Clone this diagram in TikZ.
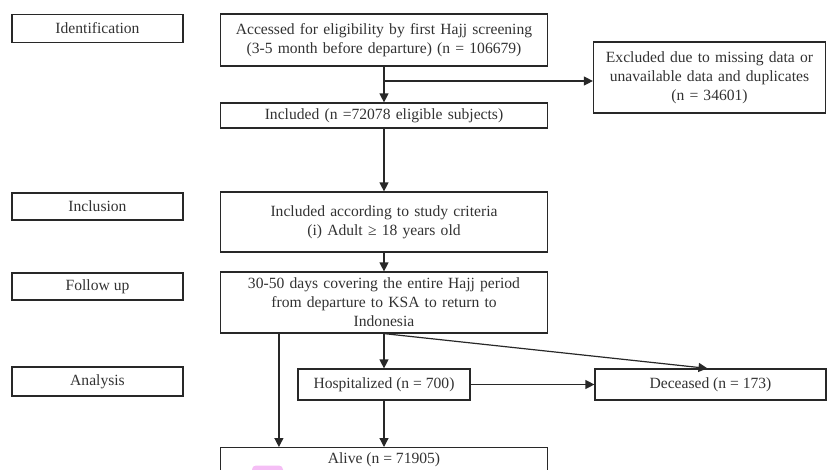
\documentclass[tikz,border=0pt]{standalone}
\usepackage{fontspec}
\setmainfont{Liberation Serif}
\usetikzlibrary{arrows.meta}
\definecolor{linegray}{RGB}{40,40,40}
\definecolor{textgray}{RGB}{50,50,50}
\definecolor{blobpink}{RGB}{245,190,245}
\begin{document}
\begin{tikzpicture}[x=1pt,y=-1pt,
  box/.style={draw=linegray, line width=1.2pt, align=center, inner sep=2pt,
    font=\fontsize{15.6}{19}\selectfont, text=textgray},
  sidebox/.style={box, minimum width=171pt, minimum height=28pt},
  mainbox/.style={box, minimum width=327pt, text width=320pt},
  arr/.style={draw=linegray, line width=1.2pt, -{Triangle[length=9pt,width=9pt]}},
]
\useasboundingbox (0,0) rectangle (827,469);

% side labels
\node[sidebox] (ident) at (97.5,28.3) {Identification};
\node[sidebox, minimum height=27pt] (inclu) at (97.5,206.5) {Inclusion};
\node[sidebox, minimum height=27pt] (follow) at (97.5,286.5) {Follow up};
\node[sidebox, minimum height=29pt] (analysis) at (97.5,381.5) {Analysis};

% main column
\node[mainbox, minimum height=52pt] (b1) at (384,40)
  {Accessed for eligibility by first Hajj screening\\(3-5 month before departure) (n = 106679)};
\node[mainbox, minimum height=25pt] (b2) at (384,115.5)
  {Included (n =72078 eligible subjects)};
\node[box, minimum width=232pt, minimum height=71pt, text width=226pt] (excl) at (709.5,77.5)
  {Excluded due to missing data or\\unavailable data and duplicates\\(n = 34601)};
\node[mainbox, minimum height=60pt] (b3) at (384,222)
  {Included according to study criteria\\(i) Adult ≥ 18 years old};
\node[mainbox, minimum height=61pt] (b4) at (384,302.5)
  {30-50 days covering the entire Hajj period\\from departure to KSA to return to\\Indonesia};
\node[box, minimum width=172pt, minimum height=31pt] (hosp) at (384,384.5)
  {Hospitalized (n = 700)};
\node[box, minimum width=231pt, minimum height=31pt] (dec) at (710.5,384.5)
  {Deceased (n = 173)};
\node[box, minimum width=327pt, minimum height=44pt, anchor=north,
  label={[anchor=north, font=\fontsize{15.6}{19}\selectfont, text=textgray, yshift=-2pt]north:Alive (n = 71905)}]
  (alive) at (384,447) {};

% pink mark
\begin{scope}
\clip (0,0) rectangle (827,469);
\fill[blobpink, rounded corners=4pt] (252,465.5) rectangle (283,480);
\end{scope}

% connectors
\draw[arr] (b1) -- (b2);
\coordinate (br) at (384,81);
\draw[arr] (br) -- (excl.west |- br);
\draw[arr] (b2) -- (b3);
\draw[arr] (b3) -- (b4);
\draw[arr] (b4) -- (hosp);
\draw[arr] ([xshift=59pt]b4.south west) -- ([xshift=59pt]alive.north west);
\draw[arr] (hosp) -- (alive);
\draw[arr] (hosp) -- (dec);
\draw[arr] (b4.south) -- ([xshift=-3pt]dec.north);
\end{tikzpicture}
\end{document}
